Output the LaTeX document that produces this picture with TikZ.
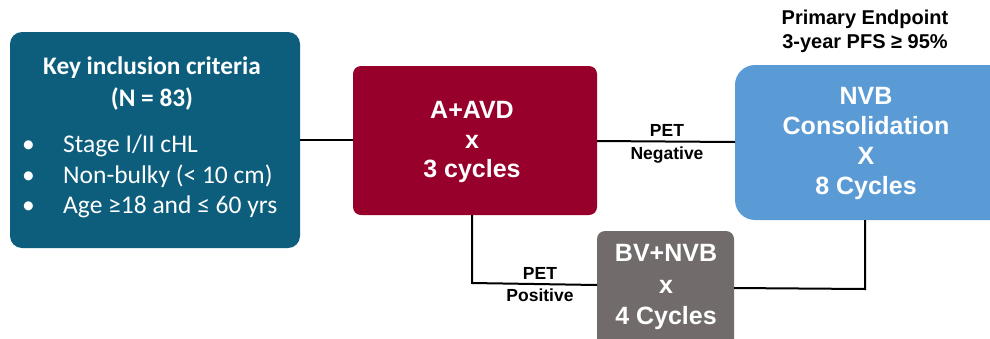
\documentclass[tikz,border=0pt]{standalone}
\usepackage{fontspec}
\setmainfont{Liberation Sans}
\newfontfamily\calfont{Carlito}
\definecolor{tealc}{RGB}{12,94,124}
\definecolor{redc}{RGB}{151,0,42}
\definecolor{bluec}{RGB}{91,155,213}
\definecolor{grayc}{RGB}{114,107,107}
\begin{document}
\begin{tikzpicture}[x=1pt,y=-1pt,
  box/.style={draw=none,inner sep=0pt,outer sep=0pt},
  wtxt/.style={text=white,font=\bfseries\fontsize{25}{29.5}\selectfont,align=center,inner sep=0pt},
  ttxt/.style={text=white,font=\calfont\fontsize{25.5}{30}\selectfont,inner sep=0pt,anchor=base west},
  lbl/.style={text=black,font=\bfseries\fontsize{17.5}{22.5}\selectfont,align=center,inner sep=0pt},
  conn/.style={draw=black,line width=2pt}]
\useasboundingbox (0,0) rectangle (990,338);
% boxes
\fill[tealc,rounded corners=12pt] (10,32) rectangle (300,248);
\node[box,minimum width=290pt,minimum height=216pt] (crit) at (155,140) {};
\fill[redc,rounded corners=8pt] (353,66) rectangle (597,215);
\node[box,minimum width=244pt,minimum height=149pt] (aavd) at (475,140.5) {};
\fill[bluec,rounded corners=20pt] (735,65) rectangle (1010,220);
\node[box,minimum width=275pt,minimum height=155pt] (nvb) at (872.5,142.5) {};
\fill[grayc,rounded corners=8pt] (597,231) rectangle (734,350);
\node[box,minimum width=137pt,minimum height=119pt] (bv) at (665.5,290.5) {};
% texts
\node[wtxt,font=\calfont\bfseries\fontsize{25.3}{32}\selectfont] (crith) at (152,84) {Key inclusion criteria\\(N = 83)};
\node[ttxt] (b1) at (22,152) {\textbullet};
\node[ttxt] (t1) at (63,152) {Stage I/II cHL};
\node[ttxt] (b2) at (22,183) {\textbullet};
\node[ttxt] (t2) at (63,183) {Non-bulky (< 10 cm)};
\node[ttxt] (b3) at (22,213) {\textbullet};
\node[ttxt] (t3) at (63,213) {Age ≥18 and ≤ 60 yrs};
\node[wtxt] (aavdt) at (472,142) {A+AVD\\x\\3 cycles};
\node[wtxt,font=\bfseries\fontsize{25}{30}\selectfont] (nvbt) at (866,143) {NVB\\Consolidation\\X\\8 Cycles};
\node[wtxt,font=\bfseries\fontsize{25}{31.5}\selectfont] (bvt) at (666,287) {BV+NVB\\x\\4 Cycles};
\node[lbl,font=\bfseries\fontsize{20}{24}\selectfont] (pe) at (865,31) {Primary Endpoint\\3-year PFS ≥ 95\%};
% connectors
\draw[conn] (crit.east |- 0,140) -- (aavd.west |- 0,140);
\draw[conn] (aavd.east |- 0,141) -- (nvb.west |- 0,142);
\node[lbl] (neg) at (667,144) {PET\\Negative};
\coordinate (c1) at (472,283);
\coordinate (c2) at (865,289);
\draw[conn] (aavd.south -| c1) -- (c1) -- (bv.west |- 0,285);
\node[lbl] (pos) at (540,284.5) {PET\\Positive};
\draw[conn] (bv.east |- 0,288) -- (c2) -- (nvb.south -| c2);
\end{tikzpicture}
\end{document}
